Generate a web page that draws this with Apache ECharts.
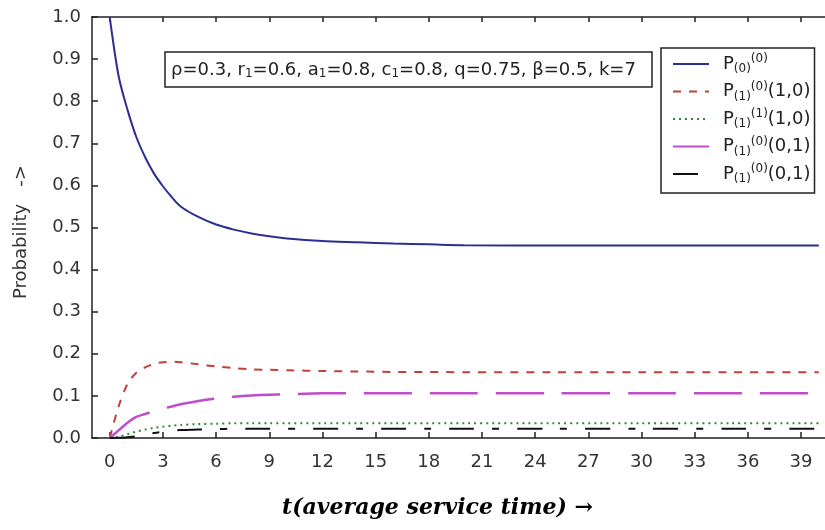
<!DOCTYPE html>
<html>
<head>
<meta charset="utf-8">
<script src="https://cdn.jsdelivr.net/npm/echarts@6/dist/echarts.min.js"></script>
<style>
  html, body { margin: 0; padding: 0; background: #fff; }
  #chart { width: 825px; height: 530px; }
</style>
</head>
<body>
<div id="chart"></div>
<script>
// Time points (average service time)
const tValues = [0, 0.5, 1, 1.5, 2, 2.5, 3, 3.5, 4, 5, 6, 7, 8, 9, 10, 12, 14, 16, 18, 20, 25, 30, 35, 40];

// State probabilities over time
const p0 = [1.0, 0.86, 0.78, 0.715, 0.667, 0.628, 0.598, 0.572, 0.55, 0.525, 0.507, 0.495, 0.486, 0.479, 0.474, 0.468, 0.465, 0.462, 0.46, 0.458, 0.457, 0.457, 0.457, 0.457];
const p1_0_10 = [0, 0.075, 0.128, 0.155, 0.168, 0.176, 0.18, 0.181, 0.18, 0.175, 0.17, 0.166, 0.163, 0.162, 0.161, 0.159, 0.158, 0.157, 0.157, 0.156, 0.156, 0.156, 0.156, 0.156];
const p1_1_10 = [0, 0.003, 0.009, 0.015, 0.02, 0.024, 0.027, 0.029, 0.031, 0.033, 0.034, 0.035, 0.035, 0.035, 0.035, 0.035, 0.035, 0.035, 0.035, 0.035, 0.035, 0.035, 0.035, 0.035];
const p1_0_01 = [0, 0.018, 0.036, 0.05, 0.057, 0.064, 0.07, 0.075, 0.08, 0.088, 0.094, 0.098, 0.101, 0.103, 0.104, 0.106, 0.106, 0.106, 0.106, 0.106, 0.106, 0.106, 0.106, 0.106];
const p1_0_01b = [0, 0.0005, 0.002, 0.004, 0.008, 0.012, 0.015, 0.017, 0.019, 0.02, 0.021, 0.022, 0.022, 0.022, 0.022, 0.022, 0.022, 0.022, 0.022, 0.022, 0.022, 0.022, 0.022, 0.022];

// Axis tick labels
const xTicks = [0, 3, 6, 9, 12, 15, 18, 21, 24, 27, 30, 33, 36, 39];
const yTicks = [0, 0.1, 0.2, 0.3, 0.4, 0.5, 0.6, 0.7, 0.8, 0.9, 1.0];

// Legend entries (rich text)
const seriesKeys = ['p0', 'p10_10', 'p11_10', 'p10_01', 'p10_01b'];
const legendText = {
  p0: '{m|P}{sub|(0)}{sup|(0)}',
  p10_10: '{m|P}{sub|(1)}{sup|(0)}{m|(1,0)}',
  p11_10: '{m|P}{sub|(1)}{sup|(1)}{m|(1,0)}',
  p10_01: '{m|P}{sub|(1)}{sup|(0)}{m|(0,1)}',
  p10_01b: '{m|P}{sub|(1)}{sup|(0)}{m|(0,1)}'
};

const paramText = '{m|ρ=0.3, r}{s|1}{m|=0.6, a}{s|1}{m|=0.8, c}{s|1}{m|=0.8, q=0.75, β=0.5, k=7}';

function pairs(vals) {
  return tValues.map((t, i) => [t, vals[i]]);
}

const font = '"DejaVu Sans", Verdana, sans-serif';
const axisColor = '#222';
const textColor = '#333';

const chart = echarts.init(document.getElementById('chart'), null, { renderer: 'canvas' });

const lineSeries = (key, vals, color, width, type) => ({
  name: key,
  type: 'line',
  data: pairs(vals),
  symbol: 'none',
  smooth: 0.3,
  silent: true,
  lineStyle: { color: color, width: width, type: type },
  itemStyle: { color: color },
  z: 3
});

chart.setOption({
  animation: false,
  backgroundColor: '#fff',
  grid: { left: 92, right: 0, top: 17, bottom: 92 },
  legend: {
    orient: 'vertical',
    left: 661,
    top: 48,
    padding: [5, 4, 8, 11],
    itemGap: 5.5,
    itemWidth: 36,
    itemHeight: 22,
    borderColor: '#222',
    borderWidth: 1.5,
    backgroundColor: '#fff',
    itemStyle: { opacity: 0 },
    data: seriesKeys,
    formatter: (name) => legendText[name],
    textStyle: {
      padding: [0, 0, 0, 9],
      rich: {
        m: { fontFamily: font, fontSize: 18, color: '#222', lineHeight: 22 },
        sub: { fontFamily: font, fontSize: 12, color: '#222', verticalAlign: 'bottom', lineHeight: 22, padding: [9, 0, 0, 0] },
        sup: { fontFamily: font, fontSize: 12, color: '#222', verticalAlign: 'top', lineHeight: 22, padding: [0, 0, 9, 0] }
      }
    }
  },
  xAxis: [
    {
      type: 'value',
      min: -1,
      max: 40.35,
      position: 'bottom',
      axisLine: { show: true, onZero: false, lineStyle: { color: axisColor, width: 1.5 } },
      axisTick: { show: true, inside: true, length: 6, customValues: xTicks, lineStyle: { color: axisColor, width: 1.5 } },
      axisLabel: { customValues: xTicks, margin: 15, fontFamily: font, fontSize: 18, color: textColor },
      splitLine: { show: false }
    },
    {
      type: 'value',
      min: -1,
      max: 40.35,
      position: 'top',
      axisLine: { show: true, onZero: false, lineStyle: { color: axisColor, width: 1.5 } },
      axisTick: { show: true, inside: true, length: 5, customValues: xTicks, lineStyle: { color: axisColor, width: 1.5 } },
      axisLabel: { show: false },
      splitLine: { show: false }
    }
  ],
  yAxis: {
    type: 'value',
    min: 0,
    max: 1,
    interval: 0.1,
    axisLine: { show: true, onZero: false, lineStyle: { color: axisColor, width: 1.5 } },
    axisTick: { show: true, inside: true, length: 6, lineStyle: { color: axisColor, width: 1.5 } },
    axisLabel: { margin: 11, fontFamily: font, fontSize: 18, color: textColor, formatter: (v) => v.toFixed(1) },
    splitLine: { show: false }
  },
  graphic: [
    // parameter box
    {
      type: 'rect',
      shape: { x: 165, y: 52, width: 487, height: 35 },
      style: { fill: '#fff', stroke: '#222', lineWidth: 1.5 },
      z: 10
    },
    {
      type: 'text',
      x: 171,
      y: 70,
      z: 11,
      style: {
        text: paramText,
        verticalAlign: 'middle',
        rich: {
          m: { fontFamily: font, fontSize: 18, fill: '#222' },
          s: { fontFamily: font, fontSize: 12, fill: '#222', verticalAlign: 'bottom', padding: [8, 0, 0, 0] }
        }
      }
    },
    // vertical axis title
    {
      type: 'text',
      x: 21,
      y: 232,
      rotation: Math.PI / 2,
      style: {
        text: 'Probability   ->',
        font: '18px ' + font,
        fill: textColor,
        align: 'center',
        verticalAlign: 'middle'
      }
    },
    // horizontal axis title
    {
      type: 'text',
      x: 282,
      y: 508,
      style: {
        text: 't(average service time) →',
        font: 'italic bold 22px "DejaVu Serif", "Liberation Serif", serif',
        fill: '#000',
        verticalAlign: 'middle'
      }
    }
  ],
  series: [
    lineSeries('p0', p0, '#2b2f92', 2, 'solid'),
    lineSeries('p10_10', p1_0_10, '#c0403c', 2, [8, 8]),
    lineSeries('p11_10', p1_1_10, '#2e8b2e', 2, [2, 4]),
    lineSeries('p10_01', p1_0_01, '#c04ccc', 2.5, [48, 18]),
    lineSeries('p10_01b', p1_0_01b, '#111', 2, [25, 18, 7, 18])
  ]
});
</script>
</body>
</html>
